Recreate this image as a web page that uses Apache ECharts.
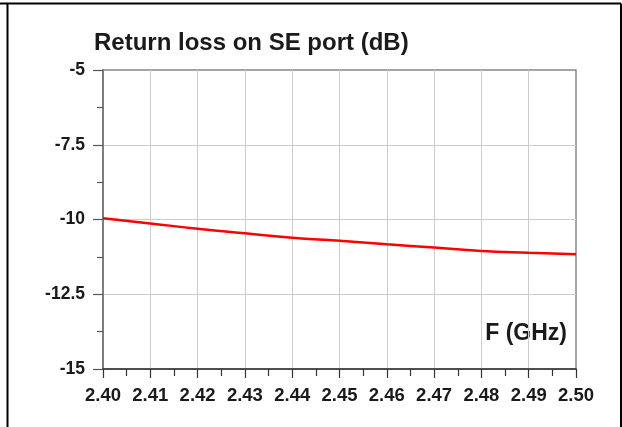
<!DOCTYPE html>
<html>
<head>
<meta charset="utf-8">
<script src="https://cdn.jsdelivr.net/npm/echarts@6/dist/echarts.min.js"></script>
<style>
html, body { margin: 0; padding: 0; background: #fff; }
#chart1 { width: 622px; height: 427px; }
</style>
</head>
<body>
<div id="chart1"></div>
<script>
// frequency points (GHz) and return loss (dB)
var freqs = [2.40, 2.41, 2.42, 2.43, 2.44, 2.45, 2.46, 2.47, 2.48, 2.49, 2.50];
var returnLoss = [-9.96, -10.13, -10.31, -10.46, -10.61, -10.71, -10.83, -10.94, -11.05, -11.11, -11.16];
var yTicks = [-15, -12.5, -10, -7.5, -5];
var titleText = 'Return loss on SE port (dB)';
var xName = 'F (GHz)';

var myChart = echarts.init(document.getElementById('chart1'));

var seriesData = freqs.map(function (f, i) {
	return [f, returnLoss[i]];
});

var option = {
	animation : false,
	title : {
		text : titleText,
		left : 94,
		top : 31,
		padding : 0,
		textStyle : {
			fontFamily : 'Liberation Sans',
			fontWeight : 'bold',
			fontSize : 24,
			color : '#1a1a1a'
		}
	},
	grid : {
		left : 103,
		right : 46,
		top : 70,
		bottom : 58,
		show : true,
		borderColor : '#888',
		borderWidth : 1.5
	},
	xAxis : {
		type : 'value',
		min : 2.40,
		max : 2.50,
		interval : 0.01,
		axisLine : { lineStyle : { color : '#333', width : 1.5 } },
		axisTick : { length : 9, lineStyle : { color : '#333', width : 1.2 } },
		minorTick : { show : true, splitNumber : 2, length : 7, lineStyle : { color : '#333', width : 1.2 } },
		splitLine : { show : true, showMinLine : false, showMaxLine : false, lineStyle : { color : '#ccc', width : 1 } },
		axisLabel : {
			margin : 17,
			fontFamily : 'Liberation Sans',
			fontWeight : 'bold',
			fontSize : 18.5,
			color : '#1a1a1a',
			formatter : function (v) { return v.toFixed(2); }
		}
	},
	yAxis : {
		type : 'value',
		min : yTicks[0],
		max : yTicks[yTicks.length - 1],
		interval : 2.5,
		axisLine : { show : true, lineStyle : { color : '#777', width : 1.7 } },
		axisTick : { show : true, length : 10, lineStyle : { color : '#555', width : 1.2 } },
		minorTick : { show : true, splitNumber : 2, length : 6, lineStyle : { color : '#555', width : 1.2 } },
		splitLine : { show : true, showMinLine : false, showMaxLine : false, lineStyle : { color : '#ccc', width : 1 } },
		axisLabel : {
			margin : 18,
			fontFamily : 'Liberation Sans',
			fontWeight : 'bold',
			fontSize : 17.5,
			color : '#1a1a1a'
		}
	},
	graphic : [
		{
			type : 'text',
			right : 622 - 567,
			top : 322,
			style : {
				text : xName,
				font : 'bold 23px "Liberation Sans"',
				fill : '#1a1a1a'
			}
		},
		// outer frame
		{ type : 'line', shape : { x1 : 0, y1 : 3.5, x2 : 621, y2 : 3.5 }, style : { stroke : '#000', lineWidth : 2 } },
		{ type : 'line', shape : { x1 : 7.5, y1 : 3.5, x2 : 7.5, y2 : 427 }, style : { stroke : '#000', lineWidth : 2 } },
		{ type : 'line', shape : { x1 : 621, y1 : 3.5, x2 : 621, y2 : 427 }, style : { stroke : '#000', lineWidth : 2 } }
	],
	series : [
		{
			name : 'Return loss',
			type : 'line',
			smooth : true,
			showSymbol : false,
			data : seriesData,
			lineStyle : { color : '#ff0000', width : 2.5 }
		}
	]
};

myChart.setOption(option);
</script>
</body>
</html>
